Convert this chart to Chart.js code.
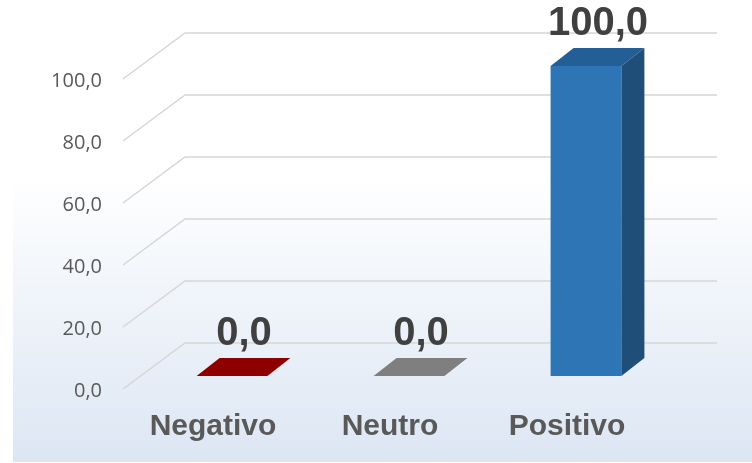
<!DOCTYPE html>
<html>
<head>
<meta charset="utf-8">
<script src="https://cdn.jsdelivr.net/npm/chart.js@4.4.1/dist/chart.umd.min.js"></script>
<style>
  html, body { margin: 0; padding: 0; background: #fff; }
  #wrap { width: 752px; height: 463px; }
</style>
</head>
<body>
<div id="wrap"><canvas id="myChart"></canvas></div>
<script>
const categories = ['Negativo', 'Neutro', 'Positivo'];
const values = [0, 0, 100];
const yTicks = [0, 20, 40, 60, 80, 100];

const frontColors = ['#c00000', '#a6a6a6', '#2e75b6'];
const topColors = ['#8e0000', '#7f7f7f', '#245e96'];
const sideColors = ['#6d0000', '#666666', '#1f4e79'];

const fmt = v => Number(v).toFixed(1).replace('.', ',');

// depth of the bars and of the floor/grid
const barDx = 23, barDy = -18;

const backdrop = {
  id: 'backdrop',
  beforeDraw(chart) {
    const {ctx, chartArea, scales} = chart;
    const g = ctx.createLinearGradient(0, 0, 0, chart.height);
    g.addColorStop(0, '#ffffff');
    g.addColorStop(0.38, '#ffffff');
    g.addColorStop(1, '#dce6f3');
    ctx.save();
    ctx.fillStyle = g;
    ctx.fillRect(13, 0, chart.width - 13, chart.height - 1);

    // slanted grid lines
    ctx.strokeStyle = '#d6d6d6';
    ctx.lineWidth = 1.5;
    const x0 = chartArea.left - 20.5;
    const x1 = chartArea.left + 41.5;
    const x2 = chartArea.right + 42.5;
    scales.y.ticks.forEach(t => {
      const py = scales.y.getPixelForValue(t.value);
      ctx.beginPath();
      ctx.moveTo(x0, py + 13);
      ctx.lineTo(x1, py - 33);
      ctx.lineTo(x2, py - 33);
      ctx.stroke();
    });
    ctx.restore();
  }
};

const bars3d = {
  id: 'bars3d',
  afterDatasetsDraw(chart) {
    const {ctx} = chart;
    const meta = chart.getDatasetMeta(0);
    ctx.save();
    meta.data.forEach((bar, i) => {
      const half = bar.width / 2;
      const l = bar.x - half, r = bar.x + half;
      const top = bar.y, bottom = bar.base;
      // top face
      ctx.fillStyle = topColors[i];
      ctx.beginPath();
      ctx.moveTo(l, top);
      ctx.lineTo(l + barDx, top + barDy);
      ctx.lineTo(r + barDx, top + barDy);
      ctx.lineTo(r, top);
      ctx.closePath();
      ctx.fill();
      // side face
      if (bottom - top > 0.5) {
        ctx.fillStyle = sideColors[i];
        ctx.beginPath();
        ctx.moveTo(r, top);
        ctx.lineTo(r + barDx, top + barDy);
        ctx.lineTo(r + barDx, bottom + barDy);
        ctx.lineTo(r, bottom);
        ctx.closePath();
        ctx.fill();
      }
      // value label
      ctx.fillStyle = '#404040';
      ctx.font = 'bold 40px "Liberation Sans", Arial, sans-serif';
      ctx.textAlign = 'center';
      ctx.textBaseline = 'alphabetic';
      ctx.fillText(fmt(values[i]), bar.x + 12, top - 31);
    });
    ctx.restore();
  }
};

const config = {
  type: 'bar',
  data: {
    labels: categories,
    datasets: [{
      data: values,
      backgroundColor: frontColors,
      borderWidth: 0,
      categoryPercentage: 1,
      barPercentage: 0.4
    }]
  },
  options: {
    responsive: true,
    maintainAspectRatio: false,
    animation: false,
    layout: { padding: { top: 66, right: 77.5, left: 0, bottom: 0 } },
    plugins: {
      legend: { display: false },
      tooltip: { enabled: false }
    },
    scales: {
      x: {
        grid: { display: false, drawTicks: false },
        border: { display: false },
        ticks: {
          color: '#595959',
          font: { family: '"Liberation Sans", Arial, sans-serif', size: 30, weight: 'bold' },
          padding: 33,
          labelOffset: -19,
          maxRotation: 0
        },
        afterFit: s => { s.height = 87; }
      },
      y: {
        min: 0,
        max: 100,
        afterBuildTicks: s => { s.ticks = yTicks.map(v => ({value: v})); },
        grid: { display: false, drawTicks: false },
        border: { display: false },
        ticks: {
          color: '#595959',
          font: { family: '"Open Sans", sans-serif', size: 20 },
          padding: 41.5,
          labelOffset: 15,
          callback: v => fmt(v)
        },
        afterFit: s => { s.width = 143.5; }
      }
    }
  },
  plugins: [backdrop, bars3d]
};

new Chart(document.getElementById('myChart'), config);
</script>
</body>
</html>
